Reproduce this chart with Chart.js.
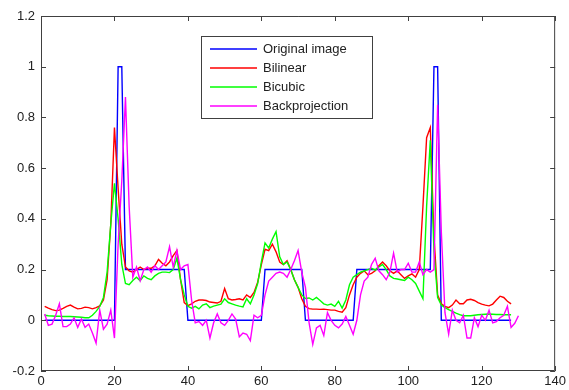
<!DOCTYPE html>
<html>
<head>
<meta charset="utf-8">
<script src="https://cdn.jsdelivr.net/npm/chart.js@4.4.0/dist/chart.umd.min.js"></script>
<style>
html, body { margin: 0; padding: 0; background: #fff; }
#wrap { width: 569px; height: 390px; }
</style>
</head>
<body>
<div id="wrap"><canvas id="c" width="569" height="390"></canvas></div>
<script>
// sample values, x = 1, 2, 3 ...
const originalImage = [
  0, 0, 0, 0, 0, 0, 0, 0, 0, 0, 0, 0, 0, 0, 0, 0, 0, 0, 0, 0,
  1, 1, 0.2, 0.2, 0.2, 0.2, 0.2, 0.2, 0.2, 0.2, 0.2, 0.2, 0.2, 0.2, 0.2, 0.2, 0.2, 0.2, 0.2, 0,
  0, 0, 0, 0, 0, 0, 0, 0, 0, 0, 0, 0, 0, 0, 0, 0, 0, 0, 0, 0,
  0.2, 0.2, 0.2, 0.2, 0.2, 0.2, 0.2, 0.2, 0.2, 0.2, 0.2, 0, 0, 0, 0, 0, 0, 0, 0, 0,
  0, 0, 0, 0, 0, 0.2, 0.2, 0.2, 0.2, 0.2, 0.2, 0.2, 0.2, 0.2, 0.2, 0.2, 0.2, 0.2, 0.2, 0.2,
  0.2, 0.2, 0.2, 0.2, 0.2, 0.2, 1, 1, 0, 0, 0, 0, 0, 0, 0, 0, 0, 0, 0, 0,
  0, 0, 0, 0, 0, 0, 0, 0
];
const bilinear = [
  0.055, 0.048, 0.042, 0.038, 0.04, 0.047, 0.055, 0.06, 0.052, 0.045,
  0.047, 0.052, 0.05, 0.045, 0.05, 0.057, 0.08, 0.16, 0.38, 0.76,
  0.52, 0.3, 0.21, 0.195, 0.19, 0.2, 0.21, 0.2, 0.205, 0.205,
  0.215, 0.24, 0.225, 0.215, 0.23, 0.255, 0.275, 0.16, 0.07, 0.058,
  0.065, 0.075, 0.08, 0.08, 0.078, 0.072, 0.07, 0.068, 0.075, 0.125,
  0.085, 0.08, 0.082, 0.085, 0.08, 0.1, 0.09, 0.11, 0.15, 0.22,
  0.28, 0.275, 0.3, 0.27, 0.23, 0.22, 0.235, 0.2, 0.16, 0.13,
  0.085, 0.055, 0.046, 0.044, 0.044, 0.043, 0.044, 0.042, 0.04, 0.04,
  0.035, 0.032, 0.05, 0.1, 0.14, 0.17, 0.185, 0.195, 0.18, 0.185,
  0.195, 0.215, 0.23, 0.215, 0.195, 0.185, 0.195, 0.18, 0.165, 0.175,
  0.183, 0.17, 0.2, 0.45, 0.72, 0.76, 0.33, 0.1, 0.065, 0.055,
  0.05, 0.06, 0.08, 0.065, 0.065, 0.08, 0.083, 0.078, 0.07, 0.064,
  0.06, 0.057, 0.064, 0.08, 0.095, 0.09, 0.075, 0.065
];
const bicubic = [
  0.02, 0.018, 0.017, 0.016, 0.016, 0.015, 0.015, 0.015, 0.014, 0.013,
  0.012, 0.01, 0.01, 0.02, 0.035, 0.055, 0.09, 0.19, 0.38, 0.54,
  0.4, 0.22, 0.145, 0.14, 0.157, 0.17, 0.156, 0.175, 0.165, 0.16,
  0.175, 0.185, 0.19, 0.19, 0.188, 0.2, 0.245, 0.16, 0.1, 0.055,
  0.048, 0.055, 0.045, 0.06, 0.065, 0.05, 0.056, 0.06, 0.064, 0.085,
  0.07, 0.065, 0.06, 0.056, 0.053, 0.085, 0.065, 0.1, 0.145, 0.23,
  0.305, 0.285, 0.32, 0.35, 0.25, 0.22, 0.23, 0.2, 0.16, 0.13,
  0.1, 0.086, 0.088, 0.08, 0.09, 0.078, 0.065, 0.06, 0.064, 0.055,
  0.075, 0.048, 0.08, 0.14, 0.17, 0.18, 0.19, 0.195, 0.2, 0.205,
  0.198, 0.21, 0.22, 0.2, 0.175, 0.165, 0.163, 0.16, 0.157, 0.17,
  0.16, 0.145, 0.115, 0.085, 0.45, 0.71, 0.27, 0.09, 0.06, 0.05,
  0.042, 0.035, 0.028, 0.022, 0.018, 0.018, 0.018, 0.02, 0.022, 0.023,
  0.024, 0.025, 0.024, 0.023, 0.023, 0.022, 0.022, 0.022
];
const backprojection = [
  0.025, -0.02, -0.015, 0.02, 0.065, -0.025, -0.025, -0.015, 0.01, -0.028,
  0.005, -0.028, -0.015, -0.05, -0.09, 0.04, -0.035, -0.015, 0.04, -0.07,
  0.3, 0.55, 0.88, 0.45, 0.17, 0.21, 0.156, 0.2, 0.21, 0.19,
  0.215, 0.2, 0.215, 0.23, 0.29, 0.21, 0.275, 0.2, 0.215, 0.22,
  0.08, -0.01, -0.005, -0.02, 0, -0.07, -0.01, 0.025, -0.01, -0.02,
  0, 0.025, 0.005, -0.065, -0.05, -0.055, -0.08, 0.02, 0.01, 0.02,
  0.1, 0.155, 0.17, 0.185, 0.19, 0.185, 0.17, 0.2, 0.235, 0.275,
  0.19, 0.13, -0.01, -0.095, -0.03, -0.02, -0.06, 0.03, 0, -0.02,
  -0.03, -0.015, 0.015, -0.02, -0.055, 0, 0.1, 0.155, 0.17, 0.22,
  0.245, 0.195, 0.18, 0.16, 0.19, 0.265, 0.19, 0.2, 0.2, 0.225,
  0.19, 0.19, 0.23, 0.18, 0.2, 0.19, 0.2, 0.85, 0.35, 0.03,
  -0.055, 0.04, 0, -0.01, 0.02, -0.07, -0.07, 0.01, -0.025, 0.02,
  0, 0.04, -0.01, -0.005, 0.01, 0.02, 0.055, -0.028, -0.012, 0.018
];

const seriesNames = ['Original image', 'Bilinear', 'Bicubic', 'Backprojection'];
const seriesColors = ['#0000ff', '#ff0000', '#00ff00', '#ff00ff'];
const xRange = [0, 140];
const yRange = [-0.2, 1.2];

const LINE_W = 1.4;
const toPoints = arr => arr.map((v, i) => ({ x: i + 1, y: v }));
const allSeries = [originalImage, bilinear, bicubic, backprojection];

const datasets = allSeries.map((arr, i) => ({
    label: seriesNames[i],
    data: toPoints(arr),
    borderColor: seriesColors[i],
    backgroundColor: seriesColors[i],
    borderWidth: LINE_W,
    pointRadius: 0,
    tension: 0,
    fill: false,
    order: 4 - i   // magenta drawn last, like matlab
}));

const FONT = { family: '"Liberation Sans", Arial, sans-serif', size: 13 };

// matlab-like box with inward ticks on all sides
const boxFrame = {
    id: 'boxFrame',
    afterDraw(chart) {
        const { ctx, chartArea: a, scales: { x, y } } = chart;
        ctx.save();
        ctx.strokeStyle = '#404040';
        ctx.lineWidth = 1;
        ctx.beginPath();
        ctx.rect(a.left + 0.5, a.top + 0.5, a.right - a.left - 1, a.bottom - a.top - 1);
        x.ticks.forEach(t => {
            const px = Math.round(x.getPixelForValue(t.value)) + 0.5;
            ctx.moveTo(px, a.bottom); ctx.lineTo(px, a.bottom - 5);
            ctx.moveTo(px, a.top); ctx.lineTo(px, a.top + 5);
        });
        y.ticks.forEach(t => {
            const py = Math.round(y.getPixelForValue(t.value)) + 0.5;
            ctx.moveTo(a.left, py); ctx.lineTo(a.left + 5, py);
            ctx.moveTo(a.right, py); ctx.lineTo(a.right - 5, py);
        });
        ctx.stroke();
        ctx.restore();
    }
};

// legend box inside the plot
const boxLegend = {
    id: 'boxLegend',
    afterDraw(chart) {
        const ctx = chart.ctx;
        const bx = 201, by = 36, bw = 171, bh = 82;
        ctx.save();
        ctx.fillStyle = '#fff';
        ctx.fillRect(bx, by, bw, bh);
        ctx.strokeStyle = '#404040';
        ctx.lineWidth = 1;
        ctx.strokeRect(bx + 0.5, by + 0.5, bw, bh);
        ctx.font = FONT.size + 'px ' + FONT.family;
        ctx.textBaseline = 'middle';
        chart.data.datasets.forEach((ds, i) => {
            const ly = Math.round(by + 12.5 + i * 19.3);
            ctx.strokeStyle = ds.borderColor;
            ctx.lineWidth = LINE_W;
            ctx.beginPath();
            ctx.moveTo(bx + 9, ly);
            ctx.lineTo(bx + 56, ly);
            ctx.stroke();
            ctx.fillStyle = '#222';
            ctx.fillText(ds.label, bx + 62, ly);
        });
        ctx.restore();
    }
};

new Chart(document.getElementById('c'), {
    type: 'line',
    data: { datasets },
    options: {
        responsive: false,
        animation: false,
        events: [],
        layout: { padding: { left: 0, top: 16, right: 13, bottom: 0 } },
        plugins: { legend: { display: false }, tooltip: { enabled: false } },
        scales: {
            x: {
                type: 'linear',
                min: xRange[0], max: xRange[1],
                grid: { display: false, drawTicks: false },
                border: { display: false },
                ticks: { stepSize: 20, padding: 3, color: '#222', font: FONT, maxRotation: 0 },
                afterFit: s => { s.height = 19; }
            },
            y: {
                type: 'linear',
                min: yRange[0], max: yRange[1],
                grid: { display: false, drawTicks: false },
                border: { display: false },
                ticks: {
                    stepSize: 0.2, padding: 6, color: '#222', font: FONT,
                    callback: v => String(Number(v.toFixed(1)))
                },
                afterFit: s => { s.width = 41; }
            }
        }
    },
    plugins: [boxFrame, boxLegend]
});
</script>
</body>
</html>
